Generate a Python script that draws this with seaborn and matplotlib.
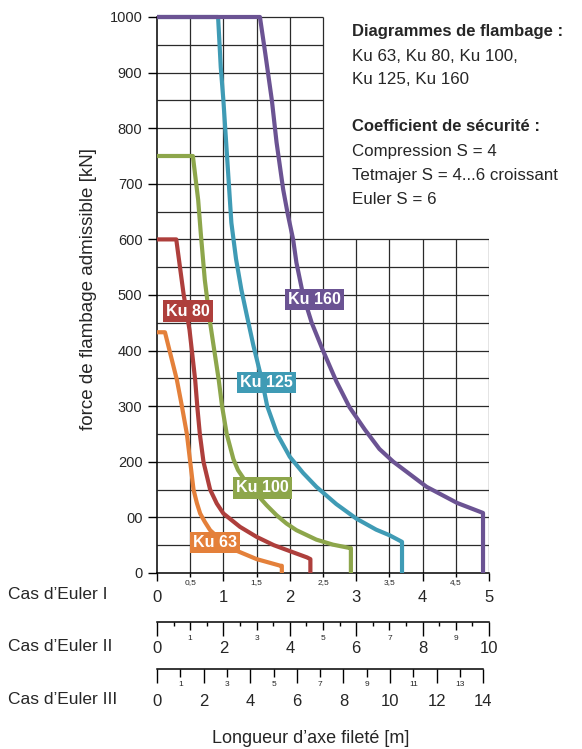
import numpy as np
import pandas as pd
import seaborn as sns
import matplotlib.pyplot as plt
from matplotlib.transforms import blended_transform_factory

# buckling curves: length in m (Euler case I) / force in kN
ku63_x = [0, 0.12, 0.30, 0.375, 0.45, 0.50, 0.55, 0.60, 0.65, 0.72, 0.80, 1.00, 1.20, 1.50, 1.86, 1.88, 1.88]
ku63_y = [433, 433, 347, 300, 250, 200, 150, 126, 107, 92, 77, 55, 40, 25, 13, 13, 0]

ku80_x = [0, 0.29, 0.40, 0.49, 0.575, 0.61, 0.645, 0.70, 0.80, 0.90, 1.00, 1.25, 1.50, 1.76, 2.10, 2.26, 2.31, 2.31]
ku80_y = [600, 600, 502, 437, 347, 295, 250, 200, 150, 125, 107, 83, 65, 50, 35, 28, 25, 0]

ku100_x = [0, 0.54, 0.62, 0.66, 0.72, 0.80, 0.93, 0.98, 1.05, 1.15, 1.22, 1.35, 1.50, 1.65, 1.80, 1.95, 2.10, 2.40, 2.65, 2.90, 2.92, 2.92]
ku100_y = [750, 750, 671, 610, 527, 450, 347, 300, 250, 205, 185, 162, 142, 122, 104, 89, 77, 60, 51, 45, 45, 0]

ku125_x = [0, 0.92, 0.96, 1.00, 1.06, 1.12, 1.19, 1.27, 1.35, 1.45, 1.58, 1.66, 1.81, 2.00, 2.20, 2.40, 2.70, 3.00, 3.30, 3.50, 3.69, 3.69]
ku125_y = [1000, 1000, 910, 850, 740, 630, 565, 510, 465, 410, 347, 300, 250, 209, 180, 155, 124, 98, 78, 68, 56, 0]

ku160_x = [0, 1.55, 1.63, 1.73, 1.80, 1.90, 1.97, 2.05, 2.10, 2.20, 2.33, 2.50, 2.70, 2.90, 3.13, 3.35, 3.56, 4.06, 4.52, 4.91, 4.91]
ku160_y = [1000, 1000, 935, 850, 775, 690, 645, 600, 558, 500, 450, 400, 345, 298, 258, 223, 200, 155, 126, 108, 0]

series_names = ["Ku 63", "Ku 80", "Ku 100", "Ku 125", "Ku 160"]
series_colors = ["#E4803A", "#AE3F3C", "#8DA64B", "#3F9BB5", "#6B5393"]

y_ticks = [0, 100, 200, 300, 400, 500, 600, 700, 800, 900, 1000]
y_tick_labels = ["0", "00", "200", "300", "400", "500", "600", "700", "800", "900", "1000"]

euler1_major = [0, 1, 2, 3, 4, 5]
euler1_minor = [0.5, 1.5, 2.5, 3.5, 4.5]
euler1_minor_labels = ["0,5", "1,5", "2,5", "3,5", "4,5"]
euler2_major = [0, 2, 4, 6, 8, 10]
euler2_minor = [1, 3, 5, 7, 9]
euler2_halves = [0.5, 1.5, 2.5, 3.5, 4.5, 5.5, 6.5, 7.5, 8.5, 9.5]
euler3_major = [0, 2, 4, 6, 8, 10, 12, 14]
euler3_minor = [1, 3, 5, 7, 9, 11, 13]

info_lines = [
    ("Diagrammes de flambage :", "bold"),
    ("Ku 63, Ku 80, Ku 100,", "normal"),
    ("Ku 125, Ku 160", "normal"),
    ("Coefficient de sécurité :", "bold"),
    ("Compression S = 4", "normal"),
    ("Tetmajer S = 4...6 croissant", "normal"),
    ("Euler S = 6", "normal"),
]

# long table for seaborn
frames = []
for name, xs, ys in zip(series_names,
                        [ku63_x, ku80_x, ku100_x, ku125_x, ku160_x],
                        [ku63_y, ku80_y, ku100_y, ku125_y, ku160_y]):
    frames.append(pd.DataFrame({"x": xs, "y": ys, "serie": name}))
curves = pd.concat(frames, ignore_index=True)

sns.set_theme(style="white")
plt.rcParams['font.family'] = ['Liberation Sans', 'DejaVu Sans']

W, H = 582, 749
fig = plt.figure(figsize=(W / 100, H / 100), dpi=100)
fig.patch.set_facecolor("white")

x0 = 157 / W
ax = fig.add_axes([x0, (H - 573) / H, 332 / W, 556 / H])
ax.set_xlim(0, 5)
ax.set_ylim(0, 1000)
ax.patch.set_visible(False)

# grid: full width below 600 kN, only up to 2.5 m above
grid_col = "#2a2a2a"
ax.hlines(np.arange(50, 601, 50), 0, 5, color=grid_col, lw=0.9, zorder=1)
ax.hlines(np.arange(650, 1001, 50), 0, 2.5, color=grid_col, lw=0.9, zorder=1, clip_on=False)
ax.vlines(np.arange(0.5, 5.01, 0.5), 0, 600, color=grid_col, lw=0.9, zorder=1)
ax.vlines(np.arange(0.5, 2.51, 0.5), 600, 1000, color=grid_col, lw=0.9, zorder=1, clip_on=False)

sns.lineplot(data=curves, x="x", y="y", hue="serie", palette=series_colors,
             sort=False, estimator=None, lw=3, legend=False, ax=ax,
             clip_on=False, zorder=3)
for line in ax.lines:
    line.set_solid_capstyle("butt")
    line.set_solid_joinstyle("round")

label_x = [0.87, 0.47, 1.59, 1.65, 2.37]
label_y = [55, 471, 153, 343, 492]
for name, col, lx, ly in zip(series_names, series_colors, label_x, label_y):
    ax.text(lx, ly, name, color="white", fontsize=11.5, fontweight="bold",
            ha="center", va="center", zorder=6,
            bbox=dict(boxstyle="square,pad=0.2", fc=col, ec="none"))

for s in ["top", "right"]:
    ax.spines[s].set_visible(False)
for s in ["left", "bottom"]:
    ax.spines[s].set_color("black")
    ax.spines[s].set_linewidth(1.1)

ax.set_yticks(y_ticks)
ax.set_yticklabels(y_tick_labels, fontsize=10.5)
ax.tick_params(axis="y", which="major", left=True, length=6.5, width=1, pad=4, color="black")
ax.set_ylabel("force de flambage admissible [kN]", fontsize=13.5, va="center")
ax.yaxis.set_label_coords(-0.205, 0.51)

ax.set_xticks(euler1_major)
ax.set_xticklabels([str(v) for v in euler1_major], fontsize=12)
ax.set_xticks(euler1_minor, minor=True)
ax.set_xticklabels(euler1_minor_labels, minor=True, fontsize=6)
ax.tick_params(axis="x", which="major", bottom=True, length=6, width=1, pad=6, color="black")
ax.tick_params(axis="x", which="minor", bottom=True, length=3, width=1, pad=1, color="black")
ax.set_xlabel("")


def scale_axis(y_px, width_px, xmax, major, minor, halves, major_pad, minor_pad):
    sub = fig.add_axes([x0, (H - y_px) / H, width_px / W, 1 / H])
    sub.set_xlim(0, xmax)
    sub.patch.set_visible(False)
    for s in ["left", "right", "top"]:
        sub.spines[s].set_visible(False)
    sub.spines["bottom"].set_color("black")
    sub.spines["bottom"].set_linewidth(1.1)
    sub.set_yticks([])
    sub.set_xticks(major)
    sub.set_xticklabels([str(v) for v in major], fontsize=12)
    sub.set_xticks(minor, minor=True)
    sub.set_xticklabels([str(v) for v in minor], minor=True, fontsize=6)
    sub.tick_params(axis="x", which="major", bottom=True, length=10, width=1,
                    pad=major_pad, color="black")
    sub.tick_params(axis="x", which="minor", bottom=True, length=6, width=1,
                    pad=minor_pad, color="black")
    if halves:
        tr = blended_transform_factory(sub.transData, sub.transAxes)
        sub.plot(halves, [0] * len(halves), transform=tr, ls="none", marker=3,
                 ms=3, mew=1, color="black", clip_on=False)
    return sub


scale_axis(622, 332, 10, euler2_major, euler2_minor, euler2_halves, 3.5, 3)
scale_axis(669, 326.3, 14, euler3_major, euler3_minor, None, 8, 3)

# case labels on the left and axis title
fig.text(8 / W, (H - 599) / H, "Cas d’Euler I", fontsize=12.5, va="baseline", ha="left")
fig.text(8 / W, (H - 651) / H, "Cas d’Euler II", fontsize=12.5, va="baseline", ha="left")
fig.text(8 / W, (H - 704) / H, "Cas d’Euler III", fontsize=12.5, va="baseline", ha="left")
fig.text(311 / W, (H - 743) / H, "Longueur d’axe fileté [m]", fontsize=13,
         va="baseline", ha="center")

# info block top right
baselines = [36, 61, 84, 131, 156, 180, 204]
for (txt, weight), b in zip(info_lines, baselines):
    fig.text(352 / W, (H - b) / H, txt, fontsize=12 if weight == "bold" else 12.2,
             fontweight=weight, va="baseline", ha="left")

fig.savefig("out.png", dpi=100, facecolor="white")
